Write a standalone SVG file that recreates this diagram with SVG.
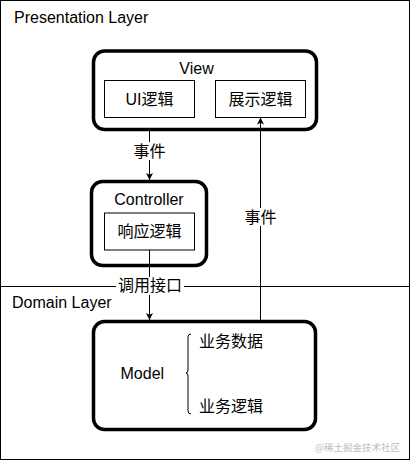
<svg xmlns="http://www.w3.org/2000/svg" width="412" height="465" viewBox="0 0 412 465">
<style>
.t{font-family:"Liberation Sans","Noto Sans CJK SC",sans-serif;font-size:16px;fill:#000}
.c{font-family:"Liberation Sans","Noto Sans CJK SC",sans-serif;font-size:16px;fill:#000}
.m{text-anchor:middle}
.big{fill:#fff;stroke:#000;stroke-width:3.5}
.box{fill:#fff;stroke:#000;stroke-width:1}
.ln{fill:none;stroke:#000;stroke-width:1}
.lbl{fill:#fff}
</style>
<defs>
<marker id="ah" viewBox="0 0 10 10" refX="10" refY="5" markerWidth="7" markerHeight="8" markerUnits="userSpaceOnUse" orient="auto">
<path d="M0,0 L10,5 L0,10 L2.5,5 z" fill="#000"/>
</marker>
</defs>
<rect width="412" height="465" fill="#fff"/>
<g id="layers">
<rect x="0.5" y="0.5" width="409" height="459" fill="none" stroke="#000" stroke-width="1"/>
<line x1="0" y1="286.5" x2="409.5" y2="286.5" stroke="#000" stroke-width="1"/>
<text class="t" x="14" y="23">Presentation Layer</text>
<text class="t" x="12" y="307.5">Domain Layer</text>
</g>
<g id="view">
<rect class="big" x="93.5" y="51" width="223" height="78.5" rx="11"/>
<text class="t m" x="196.5" y="73.5">View</text>
<g id="ui-logic">
<rect class="box" x="104.5" y="80.5" width="90" height="37"/>
<text class="c m" x="149.5" y="104.5">UI逻辑</text>
</g>
<g id="display-logic">
<rect class="box" x="215.5" y="80.5" width="90" height="37"/>
<text class="c m" x="260.5" y="104.5">展示逻辑</text>
</g>
</g>
<g id="controller">
<rect class="big" x="91.5" y="181.5" width="115" height="84" rx="11"/>
<text class="t m" x="149" y="205">Controller</text>
<g id="response-logic">
<rect class="box" x="104.5" y="213" width="90" height="37"/>
<text class="c m" x="149.5" y="237">响应逻辑</text>
</g>
</g>
<g id="model">
<rect class="big" x="93.5" y="321.5" width="222" height="108" rx="11"/>
<text class="t" x="120.5" y="378.5">Model</text>
<path class="ln" d="M191,334 Q188,334 188,337 L188,370 Q188,373 186,373 Q188,373 188,376 L188,411 Q188,414 191,414"/>
<text class="c" x="199" y="347">业务数据</text>
<text class="c" x="199" y="411.5">业务逻辑</text>
</g>
<g id="connectors">
<line class="ln" x1="149.5" y1="131" x2="149.5" y2="180" marker-end="url(#ah)"/>
<rect class="lbl" x="132" y="142" width="35" height="18"/>
<text class="c m" x="149.5" y="157">事件</text>
<line class="ln" x1="149.5" y1="250" x2="149.5" y2="320" marker-end="url(#ah)"/>
<rect class="lbl" x="116" y="277" width="68" height="18"/>
<text class="c m" x="150" y="291">调用接口</text>
<line class="ln" x1="260.5" y1="320" x2="260.5" y2="117.5" marker-end="url(#ah)"/>
<rect class="lbl" x="243" y="208" width="35" height="18"/>
<text class="c m" x="260.5" y="223">事件</text>
</g>
<text x="400" y="451" text-anchor="end" font-family="'Noto Sans CJK SC',sans-serif" font-size="9.5" fill="#bdbdbd">@稀土掘金技术社区</text>
</svg>
